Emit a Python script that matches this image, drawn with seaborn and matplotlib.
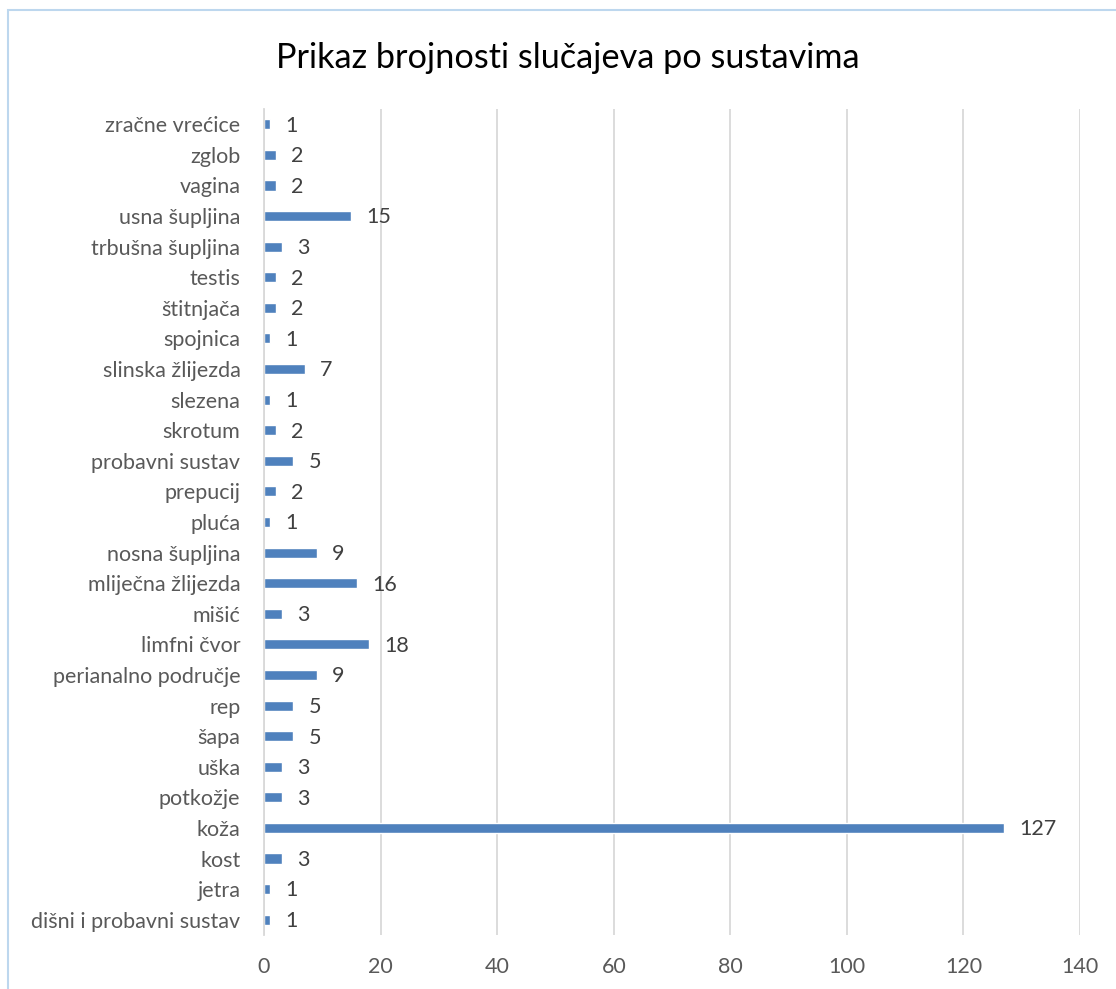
import pandas as pd
import matplotlib.pyplot as plt
import seaborn as sns
from matplotlib.patches import Rectangle

categories = ['zračne vrećice', 'zglob', 'vagina', 'usna šupljina', 'trbušna šupljina',
              'testis', 'štitnjača', 'spojnica', 'slinska žlijezda', 'slezena', 'skrotum',
              'probavni sustav', 'prepucij', 'pluća', 'nosna šupljina', 'mliječna žlijezda',
              'mišić', 'limfni čvor', 'perianalno područje', 'rep', 'šapa', 'uška',
              'potkožje', 'koža', 'kost', 'jetra', 'dišni i probavni sustav']
counts = [1, 2, 2, 15, 3, 2, 2, 1, 7, 1, 2, 5, 2, 1, 9, 16, 3, 18, 9, 5, 5, 3, 3, 127, 3, 1, 1]
x_ticks = [0, 20, 40, 60, 80, 100, 120, 140]

df = pd.DataFrame({'Sustav': categories, 'Broj': counts})

sns.set_style('white')
plt.rcParams['font.family'] = ['Lato', 'DejaVu Sans']

fig = plt.figure(figsize=(11.16, 9.89), dpi=100)
ax = fig.add_axes([0.2366, 0.0546, 0.7312, 0.8352])

sns.barplot(data=df, x='Broj', y='Sustav', order=categories, color='#4F81BD',
            width=0.33, saturation=1, ax=ax)

for i, v in enumerate(counts):
    ax.annotate(str(v), (v, i), xytext=(11, -1), textcoords='offset points',
                va='center', ha='left', fontsize=15.5, color='#404040')

ax.set_xlim(0, 140)
ax.set_xticks(x_ticks)
ax.grid(axis='x', color='#D9D9D9', linewidth=1.3)
ax.set_axisbelow(True)
for s in ['top', 'right', 'bottom']:
    ax.spines[s].set_visible(False)
ax.spines['left'].set_color('#D9D9D9')
ax.spines['left'].set_linewidth(1.3)
ax.tick_params(axis='both', length=0, labelsize=15.5, labelcolor='#595959')
ax.tick_params(axis='x', pad=16)
ax.tick_params(axis='y', pad=17)
ax.set_xlabel('')
ax.set_ylabel('')

fig.text(0.509, 0.941, 'Prikaz brojnosti slučajeva po sustavima', ha='center', va='center',
         fontsize=24.7, color='#000000')

fig.patches.append(Rectangle((8 / 1116, -0.05), 1.2, 1 - 10 / 989 + 0.05,
                             transform=fig.transFigure, fill=False,
                             edgecolor='#BDD7EE', linewidth=1.5))

fig.savefig('out.png', dpi=100)
